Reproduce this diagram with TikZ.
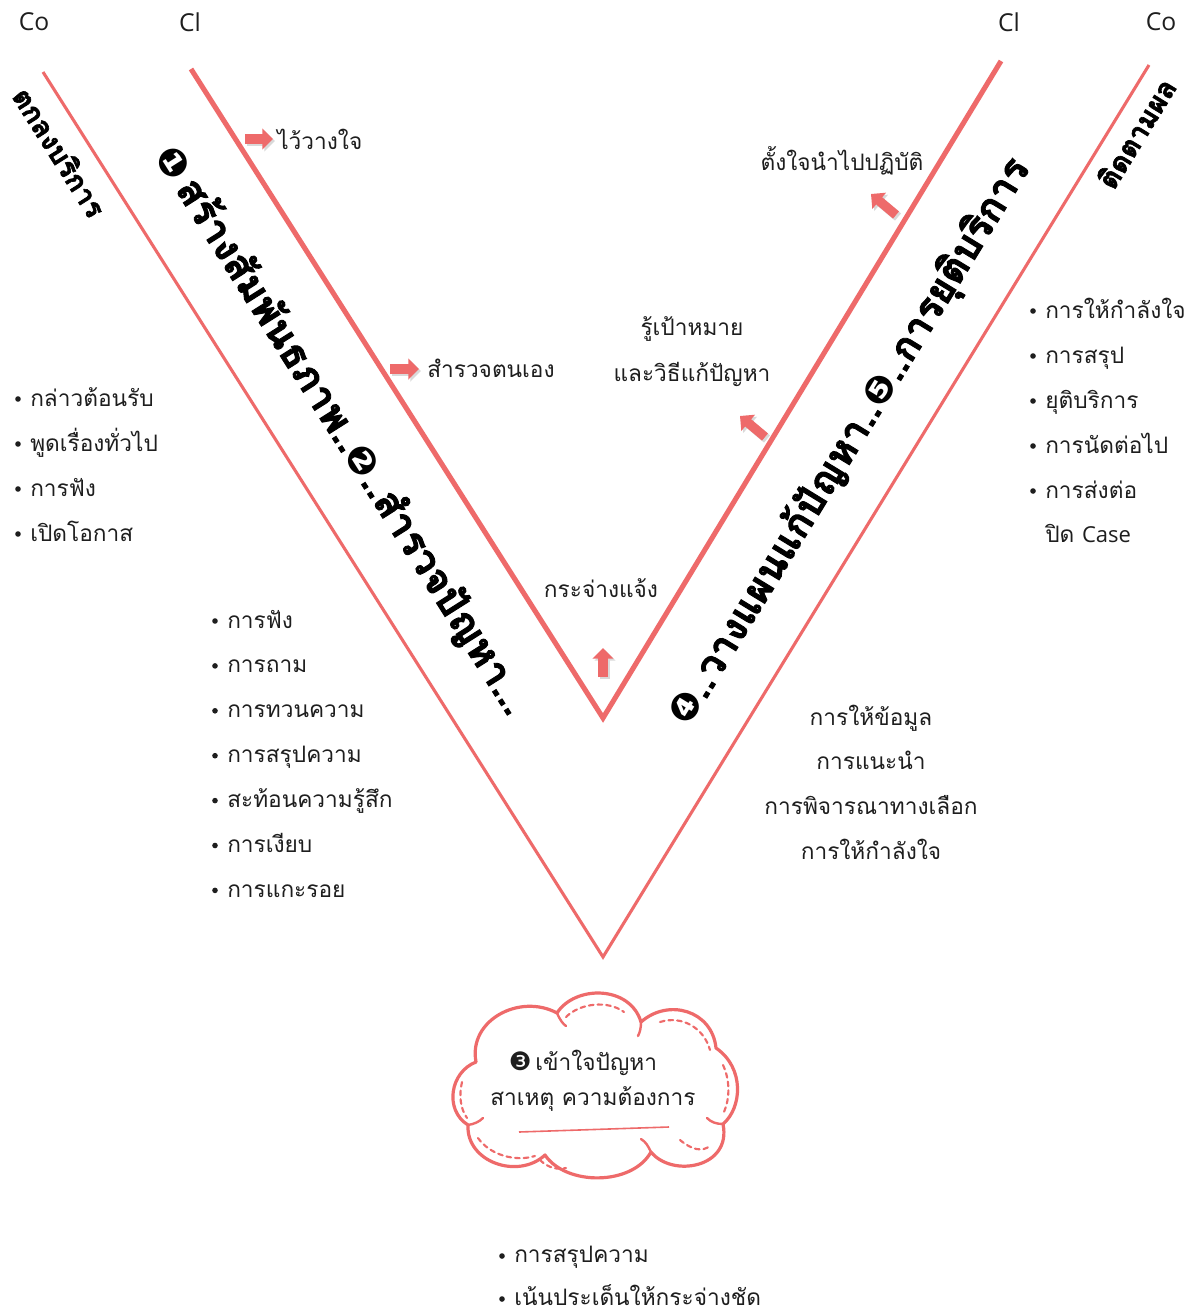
\documentclass[tikz,border=0pt]{standalone}
\usepackage{fontspec}
\newfontfamily\thai[Script=Thai, BoldFeatures={FakeBold=2.2}]{Loma}
\newfontfamily\lat{Open Sans}
\newfontfamily\dv{DejaVu Sans}
\usetikzlibrary{arrows.meta}
\definecolor{vred}{RGB}{238,106,106}
\definecolor{ink}{RGB}{30,30,30}
\newcommand{\cnum}[1]{{\dv\fontsize{9.5}{9.5}\selectfont #1}}
\begin{document}
\begin{tikzpicture}[x=0.75pt,y=-0.75pt,
  outerline/.style={draw=vred,line width=2.3pt,line join=miter},
  innerline/.style={draw=vred,line width=3.8pt,line join=miter},
  latlbl/.style={font=\lat\fontsize{18.5}{20}\selectfont, text=ink},
  th/.style={font=\thai\fontsize{17}{20}\selectfont, text=ink, inner sep=0pt},
  item/.style={th, anchor=base west},
  bul/.style={circle, fill=ink, inner sep=0pt, minimum size=4.2pt},
  diag/.style={font=\thai\bfseries, text=black, inner sep=0pt},
  blockarr/.style={vred, line width=7pt, -{Triangle[width=15.5pt,length=8pt]}},
  arrshadow/.style={black!15, line width=7pt, -{Triangle[width=15.5pt,length=8pt]}},
  dashdeco/.style={draw=vred, line width=1.6pt, dash pattern=on 3.5pt off 3pt, line cap=round},
  cloudline/.style={draw=vred, line width=2.4pt, line join=round, line cap=round}
]
\useasboundingbox (0,0) rectangle (1190,1313);
\fill[white] (0,0) rectangle (1190,1313);

% V lines
\coordinate (LO) at (43,72);
\coordinate (BO) at (603,957);
\coordinate (RO) at (1149,65);
\coordinate (LI) at (191,69);
\coordinate (BI) at (603,718);
\coordinate (RI) at (1001,61);
\draw[outerline] (LO) -- (BO) -- (RO);
\draw[innerline] (LI) -- (BI) -- (RI);

% top labels
\node[latlbl] (co1) at (34,22) {Co};
\node[latlbl] (cl1) at (190,22) {Cl};
\node[latlbl] (cl2) at (1009,22) {Cl};
\node[latlbl] (co2) at (1161,22) {Co};

% diagonal texts
\node[diag, rotate=-57.7] (d1) at (60,152) {\resizebox{110pt}{!}{ตกลงบริการ}};
\node[diag, rotate=58.5] (d4) at (1136,133) {\resizebox{92pt}{!}{ติดตามผล}};
\node[diag, rotate=-57.7] (d2) at (342,430) {\resizebox{498pt}{!}{\cnum{❶}\,สร้างสัมพันธภาพ..\cnum{❷}..สำรวจปัญหา...}};
\node[diag, rotate=58.6] (d3) at (850,442) {\resizebox{492pt}{!}{\cnum{❹}..วางแผนแก้ปัญหา..\cnum{❺}..การยุติบริการ}};

% block arrows
\coordinate (a1s) at (245,139); \coordinate (a1e) at (273,139);
\coordinate (a2s) at (390,369); \coordinate (a2e) at (419,369);
\coordinate (a3s) at (603,677); \coordinate (a3e) at (603,648);
\coordinate (a4s) at (765,437); \coordinate (a4e) at (740,416);
\coordinate (a5s) at (896,215); \coordinate (a5e) at (871,194);
\foreach \s/\e in {a1s/a1e,a2s/a2e,a3s/a3e,a4s/a4e,a5s/a5e}{
  \draw[arrshadow] ([shift={(2,2)}]\s) -- ([shift={(2,2)}]\e);
  \draw[blockarr] (\s) -- (\e);
}

% short labels
\node[th, anchor=west] (t1) at (277,139) {ไว้วางใจ};
\node[th, anchor=west] (t2) at (427,368) {สำรวจตนเอง};
\node[th] (t3) at (601,588) {กระจ่างแจ้ง};
\node[th] (t4) at (692,329) {รู้เป้าหมาย};
\node[th] (t5) at (692,374) {และวิธีแก้ปัญหา};
\node[th] (t6) at (842,161) {ตั้งใจนำไปปฏิบัติ};

% left list
\foreach \t [count=\i] in {กล่าวต้อนรับ,พูดเรื่องทั่วไป,การฟัง,เปิดโอกาส}{
  \node[bul] (lb\i) at (18,{399+45*(\i-1)}) {};
  \node[item] (l\i) at (30,{406+45*(\i-1)}) {\t};
}
% middle-left list
\foreach \t [count=\i] in {การฟัง,การถาม,การทวนความ,การสรุปความ,สะท้อนความรู้สึก,การเงียบ,การแกะรอย}{
  \node[bul] (mb\i) at (215,{621+44.9*(\i-1)}) {};
  \node[item] (m\i) at (227,{628+44.9*(\i-1)}) {\t};
}
% right list
\foreach \t [count=\i] in {การให้กำลังใจ,การสรุป,ยุติบริการ,การนัดต่อไป,การส่งต่อ}{
  \node[bul] (rb\i) at (1033,{311+45*(\i-1)}) {};
  \node[item] (r\i) at (1045,{318+45*(\i-1)}) {\t};
}
\node[item] (r6) at (1045,542) {ปิด {\lat\fontsize{16.5}{18}\selectfont Case}};

% right-center block
\foreach \t/\y [count=\i] in {การให้ข้อมูล/717,การแนะนำ/761,การพิจารณาทางเลือก/806,การให้กำลังใจ/851}{
  \node[th, anchor=base] (c\i) at (871,{\y+8}) {\t};
}

% cloud outline
\draw[cloudline] (476,1062)
  .. controls (468,1020) and (520,993) .. (557,1013)
  .. controls (575,985) and (630,985) .. (641,1022)
  .. controls (668,998) and (712,1010) .. (716,1048)
  .. controls (745,1068) and (742,1108) .. (723,1124)
  .. controls (732,1168) and (672,1178) .. (651,1152)
  .. controls (632,1186) and (566,1186) .. (545,1155)
  .. controls (518,1180) and (466,1162) .. (468,1125)
  .. controls (444,1110) and (450,1072) .. (476,1062) -- cycle;
% little inner curls
\draw[cloudline, line width=1.8pt] (557,1013) .. controls (560,1020) and (563,1024) .. (566,1026);
\draw[cloudline, line width=1.8pt] (641,1022) .. controls (641,1028) and (640,1032) .. (638,1036);
\draw[cloudline, line width=1.8pt] (723,1124) .. controls (716,1124) and (711,1122) .. (707,1118);
\draw[cloudline, line width=1.8pt] (651,1152) .. controls (648,1146) and (646,1142) .. (641,1139);
\draw[cloudline, line width=1.8pt] (468,1125) .. controls (474,1124) and (479,1122) .. (483,1118);
% dashed decorations
\draw[dashdeco] (566,1017) .. controls (580,1003) and (608,1000) .. (624,1012);
\draw[dashdeco] (660,1022) .. controls (682,1015) and (704,1028) .. (710,1050);
\draw[dashdeco] (723,1065) .. controls (730,1080) and (730,1098) .. (724,1112);
\draw[dashdeco] (462,1082) .. controls (459,1095) and (460,1108) .. (467,1118);
\draw[dashdeco] (478,1138) .. controls (490,1155) and (515,1162) .. (535,1156);
\draw[dashdeco] (540,1160) .. controls (548,1168) and (558,1170) .. (566,1168);
\draw[dashdeco] (680,1140) .. controls (692,1150) and (702,1152) .. (710,1146);
\draw[vred, line width=1.2pt] (519,1132) -- (669,1127);
\node[th, anchor=base] (k1) at (583,1070) {{\dv\fontsize{19}{19}\selectfont ❸}\,เข้าใจปัญหา};
\node[th, anchor=base] (k2) at (593,1105) {สาเหตุ ความต้องการ};

% bottom list
\foreach \t [count=\i] in {การสรุปความ,เน้นประเด็นให้กระจ่างชัด}{
  \node[bul] (bb\i) at (502,{1256+43*(\i-1)}) {};
  \node[item] (b\i) at (514,{1262+43*(\i-1)}) {\t};
}
\end{tikzpicture}
\end{document}
